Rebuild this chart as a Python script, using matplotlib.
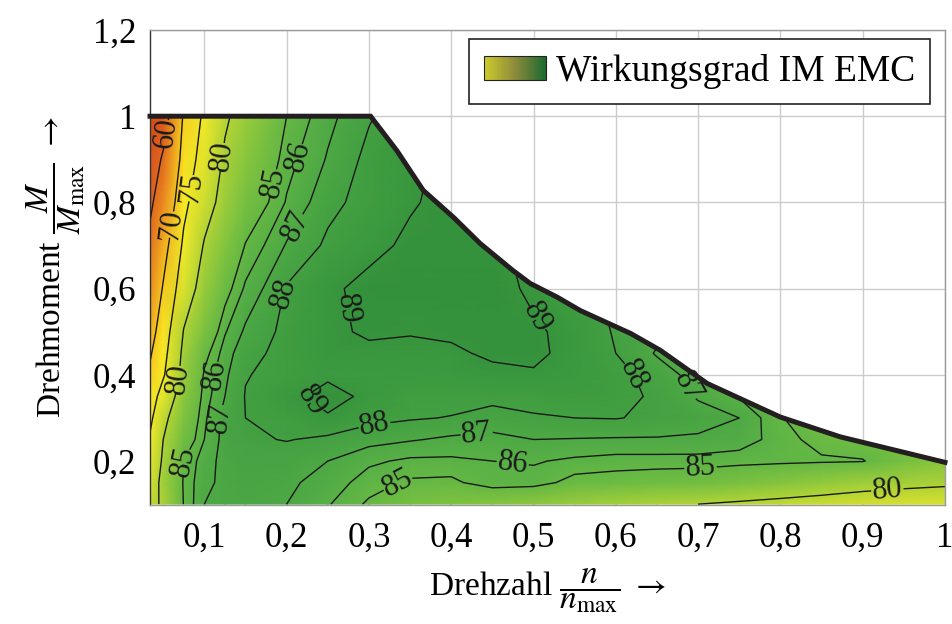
import numpy as np
import matplotlib.pyplot as plt
from matplotlib.colors import LinearSegmentedColormap
from matplotlib.patches import Polygon, Rectangle
from matplotlib.legend_handler import HandlerBase
from matplotlib.ticker import FuncFormatter

plt.rcParams['font.family'] = ['Liberation Serif', 'DejaVu Serif']
plt.rcParams['mathtext.fontset'] = 'stix'

# Stuetzstellen: Drehzahl n/nmax (Spalten) und Drehmoment M/Mmax (Zeilen)
n_pts = [0.034, 0.05, 0.075, 0.1, 0.125, 0.15, 0.2, 0.25, 0.3, 0.35, 0.4, 0.45,
         0.5, 0.55, 0.6, 0.65, 0.7, 0.75, 0.8, 0.85, 0.9, 0.95, 1.0]
m_pts = [0.1, 0.15, 0.2, 0.25, 0.3, 0.35, 0.4, 0.45, 0.5, 0.6, 0.7, 0.8, 0.9, 1.0]

# Wirkungsgrad in %, eine Liste je Drehmoment
eta_010 = [79, 80.5, 85.1, 87.0, 87.2, 87.3, 87.0, 86.1, 84.8, 83.5, 83.0, 82.8,
           82.3, 81.5, 80.8, 80.3, 80.0, 79.5, 79.0, 78.6, 78.3, 78.0, 77.8]
eta_015 = [78, 81, 85.2, 86.8, 87.2, 87.4, 87.2, 86.6, 85.5, 84.8, 84.7, 85.7,
           85.6, 84.5, 84.3, 84.0, 83.8, 83.4, 82.8, 82.0, 81.2, 80.8, 80.5]
eta_020 = [77, 80.5, 85.0, 86.6, 87.3, 87.6, 87.5, 87.0, 86.2, 85.8, 85.8, 86.0,
           86.1, 85.8, 85.6, 85.6, 85.6, 85.4, 85.3, 85.2, 85.1, 83.5, 82.5]
eta_025 = [75.5, 80, 83.8, 86.0, 87.4, 87.85, 88.05, 87.8, 87.4, 87.1, 86.8, 86.7,
           87.0, 86.95, 86.9, 86.9, 86.85, 86.6, 85.5, 84.5, 84.0, 83.8, 83.5]
eta_030 = [74, 79, 83.0, 85.8, 87.4, 88.0, 88.4, 88.85, 88.3, 88.1, 87.95, 87.6,
           87.9, 88.0, 88.05, 87.8, 87.4, 87.0, 85.1, 84.0, 83.5, 83.5, 83.5]
eta_035 = [72.5, 77, 82.2, 85.5, 87.0, 88.05, 88.6, 89.5, 88.7, 88.4, 88.4, 88.3,
           88.35, 88.5, 88.4, 87.8, 86.9, 85.9, 85.3, 84.8, 84.3, 84.0, 84.0]
eta_040 = [70.8, 74.5, 81.5, 85.2, 86.8, 87.95, 88.3, 88.75, 88.6, 88.6, 88.7, 88.85,
           88.9, 88.7, 88.4, 87.5, 86.6, 86.0, 85.5, 85.0, 84.5, 84.5, 84.5]
eta_045 = [69.5, 73.5, 81.0, 84.5, 86.5, 87.7, 88.3, 88.8, 88.85, 88.8, 88.9, 89.1,
           89.2, 88.7, 88.0, 86.9, 86.0, 85.5, 85.5, 85.0, 85.0, 85.0, 85.0]
eta_050 = [68, 72.5, 80.2, 83.3, 85.9, 87.2, 88.3, 88.85, 89.1, 89.05, 89.1, 89.3,
           89.15, 88.7, 87.9, 87.3, 87.0, 86.8, 86.5, 86.0, 86.0, 86.0, 86.0]
eta_060 = [65, 70.4, 77.7, 81.7, 84.4, 86.2, 88.1, 88.8, 89.3, 89.4, 89.4, 89.4,
           88.8, 88.3, 87.8, 87.5, 87.5, 87.5, 87.5, 87.5, 87.5, 87.5, 87.5]
eta_070 = [62, 68, 75.8, 80.3, 82.7, 85.1, 87.1, 88.2, 88.7, 89.2, 89.3, 89.2,
           88.7, 88.5, 88.5, 88.5, 88.5, 88.5, 88.5, 88.5, 88.5, 88.5, 88.5]
eta_080 = [58.5, 64.8, 73.9, 78.4, 81.3, 83.6, 86.1, 87.7, 88.4, 88.9, 89.3, 89.3,
           89.2, 89.0, 89.0, 89.0, 89.0, 89.0, 89.0, 89.0, 89.0, 89.0, 89.0]
eta_090 = [55, 61.1, 72.1, 77.0, 80.5, 82.4, 85.6, 87.1, 88.3, 88.8, 89.2, 89.3,
           89.3, 89.3, 89.3, 89.3, 89.3, 89.3, 89.3, 89.3, 89.3, 89.3, 89.3]
eta_100 = [52, 55.8, 70.8, 75.8, 79.5, 81.5, 85.0, 86.7, 87.9, 88.7, 89.2, 89.3,
           89.3, 89.3, 89.3, 89.3, 89.3, 89.3, 89.3, 89.3, 89.3, 89.3, 89.3]

# Volllastkennlinie (Grenzkurve)
env_n = [0.034, 0.302, 0.334, 0.366, 0.403, 0.435, 0.475, 0.496, 0.529, 0.557,
         0.618, 0.654, 0.711, 0.80, 0.873, 1.0]
env_m = [1.0, 1.0, 0.92, 0.828, 0.765, 0.705, 0.642, 0.612, 0.58, 0.549,
         0.496, 0.457, 0.38, 0.302, 0.256, 0.197]

line_levels = [60, 70, 75, 80, 85, 86, 87, 88, 89]
label_pos = [(0.048, 0.962), (0.053, 0.75), (0.079, 0.834), (0.119, 0.908),
             (0.172, 0.85), (0.208, 0.908), (0.20, 0.753), (0.20, 0.589),
             (0.263, 0.55), (0.062, 0.392), (0.113, 0.40), (0.117, 0.30),
             (0.073, 0.198), (0.225, 0.33), (0.308, 0.27), (0.43, 0.278),
             (0.474, 0.186), (0.332, 0.155), (0.505, 0.533), (0.631, 0.41),
             (0.687, 0.371), (0.703, 0.183), (0.93, 0.133)]

eta = np.array([eta_010, eta_015, eta_020, eta_025, eta_030, eta_035, eta_040,
                eta_045, eta_050, eta_060, eta_070, eta_080, eta_090, eta_100])

# Farbverlauf rot -> gelb -> gruen
stops = [(50, '#d2461c'), (60, '#df611e'), (65, '#ea8a20'), (70, '#f5c51f'),
         (73, '#fbea22'), (76, '#f0e928'), (78, '#d6e02e'), (80, '#b2d336'),
         (82, '#90c93c'), (84, '#70bd42'), (85.5, '#5fb545'), (86.5, '#54ad46'),
         (87.5, '#49a543'), (88.5, '#3f9d40'), (89.2, '#35923c'), (91, '#308b39')]
lo, hi = stops[0][0], stops[-1][0]
cmap = LinearSegmentedColormap.from_list(
    'eta', [((v - lo) / (hi - lo), c) for v, c in stops])
grad_cmap = LinearSegmentedColormap.from_list(
    'leg', ['#cdc92c', '#8c8a3b', '#1d6a30'])


class GradientHandler(HandlerBase):
    def create_artists(self, legend, orig_handle, xdescent, ydescent,
                       width, height, fontsize, trans):
        arts = []
        k = 40
        for i in range(k):
            arts.append(Rectangle((-xdescent + i * width / k, -ydescent),
                                  width / k * 1.1, height,
                                  facecolor=grad_cmap(i / (k - 1)),
                                  edgecolor='none', transform=trans))
        arts.append(Rectangle((-xdescent, -ydescent), width, height,
                              facecolor='none', edgecolor='#222222', lw=0.8,
                              transform=trans))
        return arts


fig = plt.figure(figsize=(9.52, 6.24), dpi=100)
ax = fig.add_axes([0.1576, 0.1907, 0.8350, 0.7612])

N, M = np.meshgrid(n_pts, m_pts)
mesh = ax.pcolormesh(N, M, eta, shading='gouraud', cmap=cmap,
                     vmin=lo, vmax=hi, zorder=1)
cl = ax.contour(N, M, eta, levels=line_levels, colors='#1a1a1a',
                linewidths=1.0, zorder=2)
ax.clabel(cl, line_levels, manual=label_pos, inline=True, fontsize=22,
          fmt='%d', inline_spacing=1)

clip = Polygon(list(zip(env_n, env_m)) + [(1.0, 0.0), (0.034, 0.0)],
               closed=True, facecolor='none', edgecolor='none',
               transform=ax.transData)
ax.add_patch(clip)
mesh.set_clip_path(clip)
cl.set_clip_path(clip)

ax.plot(env_n, env_m, color='#231f20', lw=3.6, solid_joinstyle='miter',
        zorder=4, clip_on=False)

ax.set_xlim(0.034, 1.0)
ax.set_ylim(0.098, 1.2)
ax.set_xticks([0.1, 0.2, 0.3, 0.4, 0.5, 0.6, 0.7, 0.8, 0.9, 1.0])
ax.set_yticks([0.2, 0.4, 0.6, 0.8, 1.0, 1.2])
fmt = FuncFormatter(lambda v, p: ('%g' % round(v, 2)).replace('.', ','))
ax.xaxis.set_major_formatter(fmt)
ax.yaxis.set_major_formatter(fmt)
ax.tick_params(length=0, labelsize=25)
ax.tick_params(axis='x', pad=12)
ax.tick_params(axis='y', pad=10)
ax.set_axisbelow(True)
ax.grid(True, color='#cccccc', lw=1.0)
for s in ax.spines.values():
    s.set_color('#9a9a9a')
    s.set_linewidth(1.0)
ax.spines['left'].set_color('#333333')

ax.set_xlabel(r'Drehzahl $\dfrac{n}{n_{\mathrm{max}}}$ $\rightarrow$',
              fontsize=24, labelpad=8)
ax.set_ylabel(r'Drehmoment $\dfrac{M}{M_{\mathrm{max}}}$ $\rightarrow$',
              fontsize=24, labelpad=4)

handle = Rectangle((0, 0), 1, 1)
leg = ax.legend([handle], ['Wirkungsgrad IM EMC'], loc='upper right',
                bbox_to_anchor=(0.981, 0.981), fontsize=27, frameon=True,
                fancybox=False, framealpha=1, edgecolor='#222222',
                handler_map={Rectangle: GradientHandler()},
                handlelength=1.65, handleheight=0.6, handletextpad=0.25,
                borderpad=0.4, borderaxespad=0)
leg.get_frame().set_linewidth(1.2)
leg.set_zorder(5)

fig.savefig('out.png', dpi=100)
